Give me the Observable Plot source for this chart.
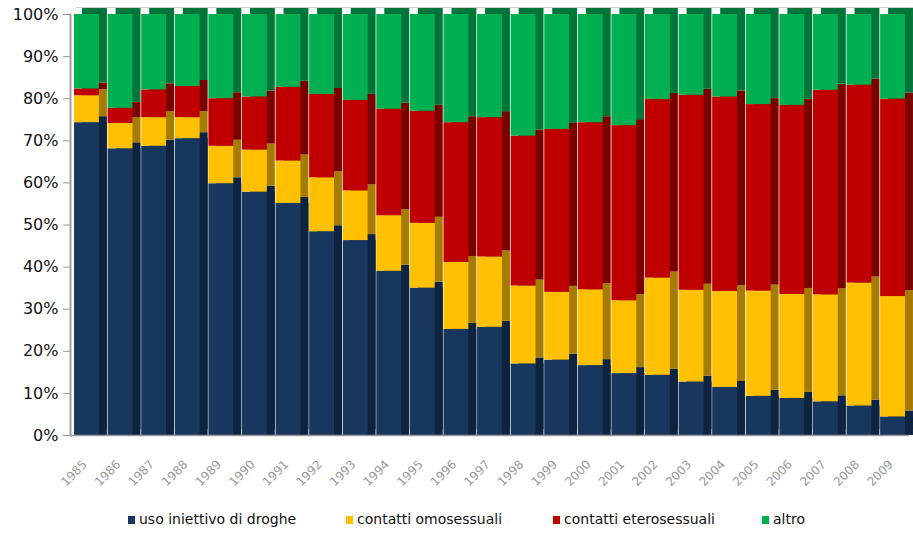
<!DOCTYPE html>
<html>
<head>
<meta charset="utf-8">
<script src="https://cdn.jsdelivr.net/npm/d3@7"></script>
<script src="https://cdn.jsdelivr.net/npm/@observablehq/plot@0.6"></script>
<style>
  html, body { margin: 0; padding: 0; background: #fff; }
  #wrap { position: relative; width: 913px; height: 534px; overflow: hidden; }
  #legend { position: absolute; left: 0; top: 509px; width: 913px; height: 22px;
            font-family: "DejaVu Sans", sans-serif; font-size: 14px; color: #111; }
  .item { position: absolute; top: 0; line-height: 20px; white-space: nowrap; }
  .sw { display: inline-block; width: 7px; height: 8px; margin-right: 4px; vertical-align: 0px; }
</style>
</head>
<body>
<div id="wrap">
  <div id="chart"></div>
  <div id="legend"></div>
</div>
<script>
const years = ["1985","1986","1987","1988","1989","1990","1991","1992","1993","1994","1995","1996","1997",
               "1998","1999","2000","2001","2002","2003","2004","2005","2006","2007","2008","2009"];
const seriesNames = ["uso iniettivo di droghe", "contatti omosessuali", "contatti eterosessuali", "altro"];
const droghe = [74.3, 68.1, 68.7, 70.5, 59.8, 57.8, 55.1, 48.4, 46.3, 39.0, 35.0, 25.2, 25.7,
                17.0, 17.9, 16.6, 14.7, 14.3, 12.7, 11.4, 9.3, 8.8, 8.0, 7.0, 4.4];
const omosessuali = [6.4, 6.0, 6.8, 5.0, 8.9, 10.0, 10.1, 12.8, 11.8, 13.2, 15.4, 15.9, 16.7,
                     18.5, 16.1, 18.0, 17.3, 23.1, 21.8, 22.8, 25.0, 24.7, 25.4, 29.2, 28.6];
const eterosessuali = [1.6, 3.6, 6.6, 7.4, 11.3, 12.6, 17.5, 19.8, 21.5, 25.3, 26.6, 33.2, 33.1,
                       35.6, 38.7, 39.7, 41.6, 42.4, 46.3, 46.2, 44.3, 44.9, 48.6, 47.0, 46.9];
const altro = [17.7, 22.3, 17.9, 17.1, 20.0, 19.6, 17.3, 19.0, 20.4, 22.5, 23.0, 25.7, 24.5,
               28.9, 27.3, 25.7, 26.4, 20.2, 19.2, 19.6, 21.4, 21.6, 18.0, 16.8, 20.1];
const yTicks = [0, 10, 20, 30, 40, 50, 60, 70, 80, 90, 100];

const frontColors = ["#17375E", "#FFC000", "#C00000", "#00B050"];
const sideColors  = ["#0E2340", "#A57C00", "#7A0000", "#00753A"];

const seriesValues = [droghe, omosessuali, eterosessuali, altro];
const table = [];
seriesNames.forEach((s, i) => {
  years.forEach((y, j) => table.push({year: y, series: s, value: seriesValues[i][j], idx: i}));
});
const baseRows = table.filter(d => d.idx === 0);

const chart = Plot.plot({
  width: 913,
  height: 500,
  marginLeft: 70,
  marginRight: 4,
  marginTop: 14,
  marginBottom: 65,
  style: {background: "transparent", fontFamily: "DejaVu Sans, sans-serif"},
  x: {domain: years, paddingInner: 0.26, paddingOuter: 0.12, round: false, label: null},
  y: {domain: [0, 100], label: null},
  marks: [
    Plot.ruleY([100], {stroke: "#d0d0d0", dy: -7, dx: 6}),
    Plot.barY(baseRows, {x: "year", y: "value", fill: sideColors[0], dx: 8}),
    Plot.barY(table, {x: "year", y: "value", z: "series", fill: d => sideColors[d.idx], dx: 8, dy: -6}),
    Plot.barY(table, {x: "year", y: "value", z: "series", fill: d => frontColors[d.idx]}),
    Plot.ruleY([0], {stroke: "#9a9a9a", strokeWidth: 1.5}),
    Plot.frame({anchor: "left", stroke: "#a0a0a0", strokeWidth: 2}),
    Plot.axisY({ticks: yTicks, tickFormat: d => d + "%", tickSize: 7, tickPadding: 5,
                fontSize: 16, fill: "#111", stroke: "#999", label: null}),
    Plot.axisX({tickSize: 0, tickRotate: -45, tickPadding: 27, fontSize: 12, fill: "#9a9a9a", label: null, dx: -2})
  ]
});
document.getElementById("chart").appendChild(chart);

const legendPos = [128, 346, 553, 762];
const legend = document.getElementById("legend");
seriesNames.forEach((s, i) => {
  const it = document.createElement("div");
  it.className = "item";
  it.style.left = legendPos[i] + "px";
  const sw = document.createElement("span");
  sw.className = "sw";
  sw.style.background = frontColors[i];
  it.appendChild(sw);
  it.appendChild(document.createTextNode(s));
  legend.appendChild(it);
});
</script>
</body>
</html>
